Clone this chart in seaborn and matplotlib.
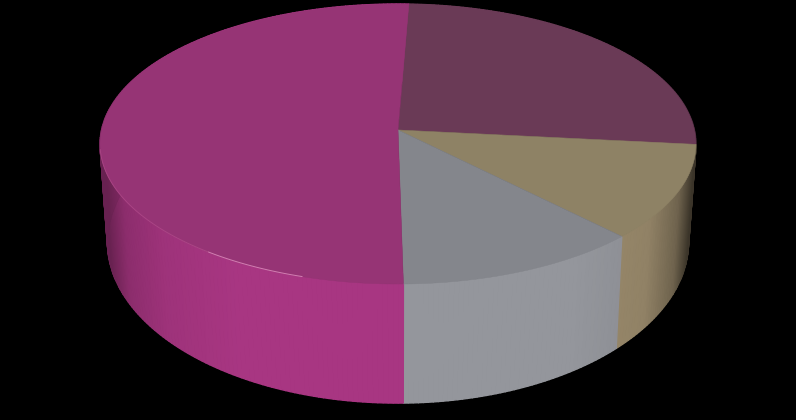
import numpy as np
import matplotlib
matplotlib.use('Agg')
import matplotlib.pyplot as plt
import seaborn as sns

# slice shares, clockwise from the seam just right of twelve o'clock
shares = [26, 11, 12.1, 50.9]
top_colors = ['#6a3a56', '#8e8265', '#84868c', '#963475']
side_colors = ['#6a3a56', '#9a8a6c', '#94969c', '#a83682']
start_angle = 2.3

sns.set_theme(style="white")
plt.rcParams['figure.facecolor'] = 'black'

# perspective of the disc, in pixels of the 796x420 picture
cx, cy = 398, 130
k, a, b = 0.1, 138.6, 296.5
side_sx, side_sy, side_dy = 0.975, 1.15, 96


def top_rim(theta, r=1.0):
    u = r * np.sin(theta)
    v = -r * np.cos(theta)
    w = 1 - k * v
    return cx + b * u / w, cy + a * v / w


def bottom_rim(theta):
    x, y = top_rim(theta)
    return cx + side_sx * (x - cx), cy + side_sy * (y - cy) + side_dy


def shade(x):
    # the wall darkens towards both outer ends, harder on the right
    t = np.abs(x - cx) / 295
    if x < cx:
        return np.interp(t, [0, 0.55, 0.8, 0.93, 1.0], [1.0, 1.0, 0.94, 0.84, 0.62])
    return np.interp(t, [0, 0.6, 0.85, 0.95, 1.0], [1.0, 1.0, 0.94, 0.72, 0.38])


fig, ax = plt.subplots(figsize=(7.96, 4.2), dpi=100)
fig.subplots_adjust(0, 0, 1, 1)
ax.set_facecolor('black')
ax.set_xlim(0, 796)
ax.set_ylim(420, 0)
ax.axis('off')

edges = np.radians(start_angle + 360 * np.cumsum([0] + shares) / sum(shares))

# outer wall first, the top face then covers the hidden half
for i, color in enumerate(side_colors):
    rgb = np.array(matplotlib.colors.to_rgb(color))
    steps = np.linspace(edges[i], edges[i + 1], int(shares[i] * 4) + 2)
    for t0, t1 in zip(steps[:-1], steps[1:]):
        xt, yt = top_rim(np.array([t0, t1]))
        xb, yb = bottom_rim(np.array([t1, t0]))
        ax.fill(np.r_[xt, xb], np.r_[yt, yb], color=rgb * shade((xt[0] + xt[1]) / 2), lw=1.0, zorder=2)

# top face
for i, color in enumerate(top_colors):
    th = np.linspace(edges[i], edges[i + 1], 200)
    x, y = top_rim(th)
    ax.fill(np.r_[cx, x], np.r_[cy, y], color=color, lw=0.4, zorder=3)

# pale highlight along the front left of the rim
x, y = top_rim(np.radians(np.linspace(197, 216, 60)))
ax.plot(x, y, color='#e090c0', lw=0.7, alpha=0.8, zorder=4)
x, y = top_rim(np.radians(np.linspace(216, 262, 60)))
ax.plot(x, y, color='#b85090', lw=0.7, alpha=0.6, zorder=4)

fig.savefig('out.png', dpi=100, facecolor='black')
